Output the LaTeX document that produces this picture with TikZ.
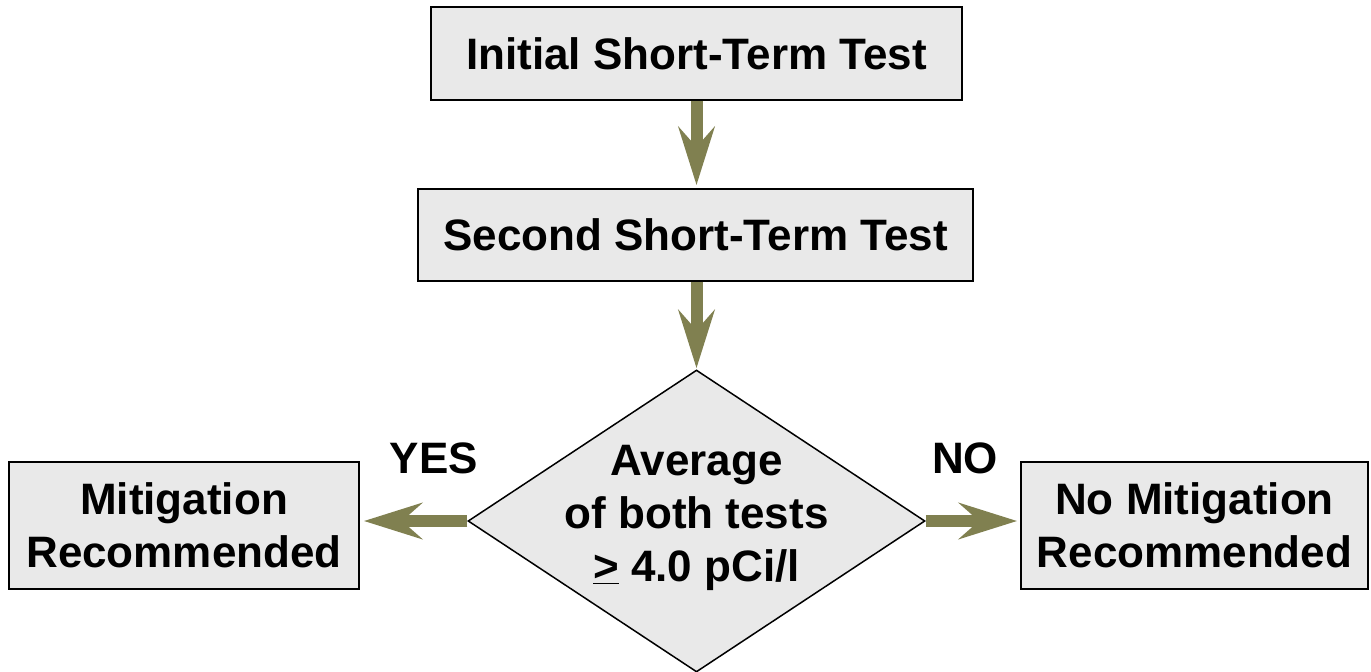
\documentclass[tikz,border=0pt]{standalone}
\usepackage{fontspec}
\setmainfont{Liberation Sans}
\usetikzlibrary{arrows.meta,shapes.geometric}
\definecolor{olive}{RGB}{128,128,80}
\definecolor{boxfill}{RGB}{233,233,233}
\begin{document}
\begin{tikzpicture}[x=1pt,y=-1pt,
  every node/.style={font=\bfseries\fontsize{44pt}{53pt}\selectfont},
  stepbox/.style={draw=black, line width=1.8pt, fill=boxfill, rectangle, inner sep=0pt, align=center},
  decbox/.style={draw=black, line width=1.5pt, fill=boxfill, diamond, inner sep=0pt, aspect=1.5},
  flow/.style={draw=olive, line width=12pt, -{Stealth[length=58pt, width=36pt, inset=20pt]}}
]
\useasboundingbox (0,0) rectangle (1371,672);
\node[stepbox, minimum width=531pt, minimum height=93pt] (b1) at (696.5,53.5) {Initial Short-Term Test};
\node[stepbox, minimum width=555pt, minimum height=92pt] (b2) at (695.5,235) {Second Short-Term Test};
\node[decbox, minimum width=457pt, minimum height=302pt] (dec) at (696.5,521) {};
\node[align=center] (dect) at (696.5,518) {Average\\of both tests\\\underline{>} 4.0 pCi/l};
\node[stepbox, minimum width=350pt, minimum height=127pt] (mit) at (184,525.5) {Mitigation\\Recommended};
\node[stepbox, minimum width=347pt, minimum height=127pt] (nomit) at (1194.5,525.5) {No Mitigation\\Recommended};
\node (yes) at (434,458) {YES};
\node (no) at (965,458) {NO};
\draw[flow, shorten >=3pt] (b1.south) -- (b1.south |- b2.north);
\draw[flow, shorten >=1pt] (dec.north |- b2.south) -- (dec.north);
\draw[flow, shorten >=4pt] (dec.west) -- (dec.west -| mit.east);
\draw[flow, shorten >=3pt] (dec.east) -- (dec.east -| nomit.west);
\end{tikzpicture}
\end{document}
